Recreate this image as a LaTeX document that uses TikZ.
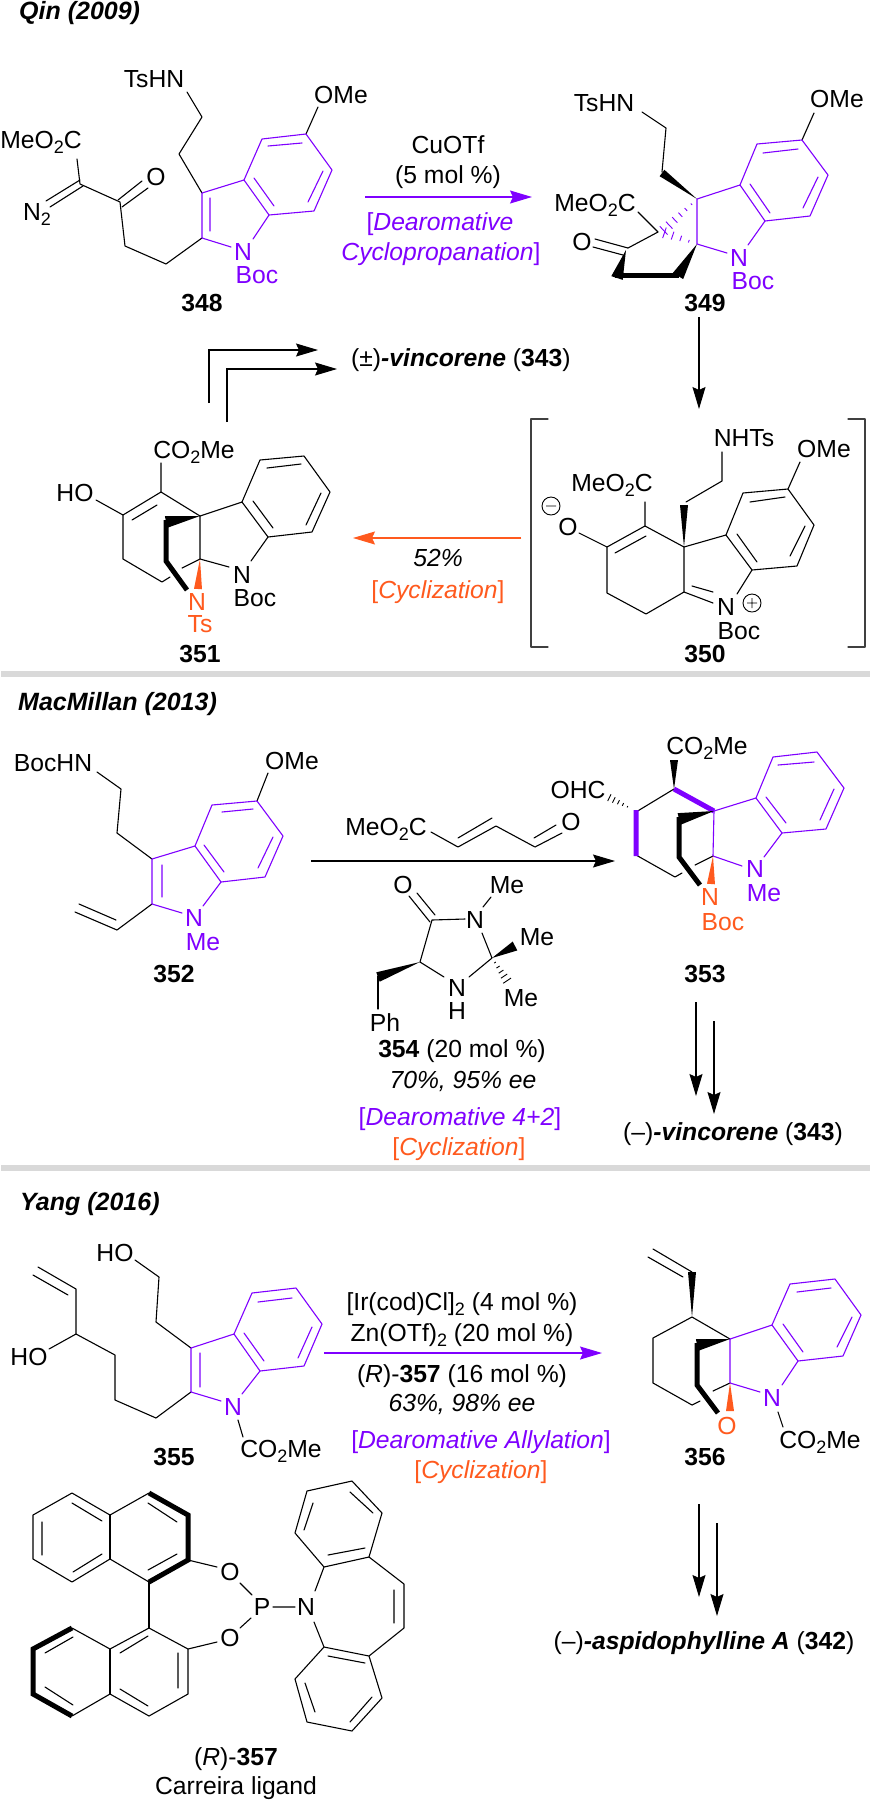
\documentclass[tikz,border=0pt]{standalone}
\usepackage{fontspec}
\setmainfont{Liberation Sans}
\usetikzlibrary{arrows.meta,calc}
\definecolor{Violet}{HTML}{7F00FF}
\definecolor{Tangerine}{HTML}{FF5A1E}
\definecolor{Divider}{HTML}{D9D9D9}
\definecolor{Bracket}{HTML}{404040}

\newcommand{\lowtwo}{\raisebox{-0.2em}{\fontsize{18}{18}\selectfont 2}}
\newcommand{\wedgebond}[4][black]{\fill [#1] #2 -- ($#3!#4pt!90:#2$) -- ($#3!#4pt!-90:#2$) -- cycle;}
\newcommand{\hashbond}[5][black]{%
	\foreach \hb in {1,...,#5} {%
		\pgfmathsetmacro{\hf}{\hb/(#5+0.3)}%
		\pgfmathsetmacro{\hw}{\hf*#4}%
		\draw [#1,line width=0.9pt] ($#2!\hf!#3!\hw pt!90:#3$) -- ($#2!\hf!#3!\hw pt!-90:#3$);
	}%
}
\tikzset{
	bd/.style={line width=1.1pt,line cap=round,line join=round},
	vbd/.style={bd,draw=Violet},
	fat/.style={line width=5pt,line join=miter},
	vlbl/.style={text=Violet},
	olbl/.style={text=Tangerine},
	headline/.style={anchor=west,font=\fontsize{25}{28}\selectfont\bfseries\itshape},
	rxn/.style={line width=1.1pt,-{Stealth[length=22pt,width=13pt,inset=3pt]}},
	bar/.style={line width=6pt,draw=Divider}
}

\begin{document}
\begin{tikzpicture}[x=1pt,y=-1pt,every node/.style={inner sep=0pt,text height=17pt,text depth=0pt,font=\fontsize{24.7}{28}\selectfont}]
\useasboundingbox (0,0) rectangle (870,1800);
\fill [white] (0,0) rectangle (870,1800);

\coordinate (barAl) at (1,674);
\coordinate (barAr) at (870,674);
\coordinate (barBl) at (1,1168);
\coordinate (barBr) at (870,1168);
\draw [bar] (barAl) -- (barAr);
\draw [bar] (barBl) -- (barBr);

\node (qin) at (19,11) [headline] {Qin (2009)};
\node (macmillan) at (18,702) [headline] {MacMillan (2013)};
\node (yang) at (20,1202) [headline] {Yang (2016)};

% 348
\node (tshnA) at (154,79) {TsHN};
\node (omeA) at (341,95) {OMe};
\node (esterA) at (41,140) {MeO\lowtwo C};
\node (ketoA) at (156,177) {O};
\node (diazoA) at (37,212) {N\lowtwo};
\node (nA) at (243,252) [vlbl] {N};
\node (bocA) at (257,275) [vlbl] {Boc};
\node (labA) at (202,303) {\textbf{348}};
\draw [bd] (187,92) -- (202,117) -- (179,154) -- (202,193);
\draw [bd] (306,134) -- (318,107);
\draw [bd] (202,238) -- (166,264) -- (125,246) -- (120,202) -- (80,184) -- (77,159);
\draw [bd] (118,200) -- (142,181) (122,207) -- (148,188);
\draw [bd] (80,180) -- (46,201) (83,186) -- (50,207);
\draw [vbd] (231,247) -- (202,238) -- (202,193) -- (244,180) -- (269,215) -- (253,239);
\draw [vbd] (244,180) -- (262,139) -- (306,134) -- (332,170) -- (314,211) -- (269,215);
\draw [vbd] (210,198) -- (210,231) (254,178) -- (274,206) (268,146) -- (302,143) (323,171) -- (308,202);

% reaction 348 to 349
\coordinate (arrAs) at (365,197);
\coordinate (arrAe) at (532,197);
\draw [rxn,draw=Violet,fill=Violet] (arrAs) -- (arrAe);
\node (cuotf) at (448,145) {CuOTf};
\node (cuload) at (448,175) {(5 mol \%)};
\node (dearoA) at (440,222) [vlbl] {[\textit{Dearomative}};
\node (cycloprop) at (441,252) [vlbl] {\textit{Cyclopropanation}]};

% 349
\node (tshnB) at (604,103) {TsHN};
\node (omeB) at (837,99) {OMe};
\node (esterB) at (595,203) {MeO\lowtwo C};
\node (ketoB) at (582,242) {O};
\node (nB) at (739,258) [vlbl] {N};
\node (bocB) at (753,281) [vlbl] {Boc};
\node (labB) at (705,303) {\textbf{349}};
\draw [bd] (642,112) -- (666,128) -- (662,172);
\wedgebond{(697,199)}{(662,173)}{4}
\draw [bd] (802,140) -- (814,113);
\draw [bd] (638,212) -- (658,232) -- (628,248);
\draw [bd] (595,239) -- (628,248) (593,247) -- (623,255);
\wedgebond{(626,250)}{(617,278)}{6}
\draw [fat] (615,275) -- (679,275);
\wedgebond{(697,244)}{(678,276)}{6}
\hashbond[Violet]{(697,199)}{(662,232)}{6}{6}
\hashbond[Violet]{(697,244)}{(662,232)}{6}{4}
\draw [vbd] (727,253) -- (697,244) -- (697,199) -- (740,185) -- (765,221) -- (748,245);
\draw [vbd] (740,185) -- (757,144) -- (802,140) -- (828,175) -- (810,216) -- (765,221);
\draw [vbd] (763,153) -- (798,149) (818,177) -- (803,208) (750,184) -- (770,213);

% reaction 349 to 350
\coordinate (arrBs) at (699,317);
\coordinate (arrBe) at (699,409);
\draw [rxn] (arrBs) -- (arrBe);

% 350
\coordinate (brLa) at (548,419);
\coordinate (brLb) at (531,419);
\coordinate (brLc) at (531,647);
\coordinate (brLd) at (548,647);
\coordinate (brRa) at (848,419);
\coordinate (brRb) at (865,419);
\coordinate (brRc) at (865,647);
\coordinate (brRd) at (848,647);
\draw [bd,draw=Bracket] (brLa) -- (brLb) -- (brLc) -- (brLd);
\draw [bd,draw=Bracket] (brRa) -- (brRb) -- (brRc) -- (brRd);
\node (nhtsC) at (744,438) {NHTs};
\node (omeC) at (824,449) {OMe};
\node (esterC) at (612,483) {MeO\lowtwo C};
\node (oxC) at (568,527) {O};
\node (nC) at (726,607) {N};
\node (bocC) at (739,631) {Boc};
\node (labC) at (705,654) {\textbf{350}};
\draw [bd] (722,452) -- (722,481) -- (686,502);
\wedgebond{(684,547)}{(684,505)}{4}
\draw [bd] (800,462) -- (788,489);
\draw [bd] (645,502) -- (645,526) -- (684,547) -- (684,592);
\draw [bd] (579,533) -- (607,547) -- (645,526) (615,553) -- (646,536);
\draw [bd] (607,547) -- (607,593) -- (646,614) -- (684,592) -- (713,603) (692,586) -- (713,592);
\draw [bd] (684,547) -- (726,535) -- (752,570) -- (737,594);
\draw [bd] (726,535) -- (743,493) -- (788,489) -- (814,525) -- (797,566) -- (752,570);
\draw [bd] (750,502) -- (785,497) (805,526) -- (790,556) (737,534) -- (757,562);
\draw [line width=0.9pt] (551,506) circle (9) (546,506) -- (556,506);
\draw [line width=0.9pt] (752,603) circle (9) (747,603) -- (757,603) (752,598) -- (752,608);

% reaction 350 to 351
\coordinate (arrCs) at (521,538);
\coordinate (arrCe) at (353,538);
\draw [rxn,draw=Tangerine,fill=Tangerine] (arrCs) -- (arrCe);
\node (yieldC) at (438,558) {\textit{52\%}};
\node (cycC) at (438,590) [olbl] {[\textit{Cyclization}]};

% 351
\node (estD) at (194,450) {CO\lowtwo Me};
\node (hoD) at (75,493) {HO};
\node (nD) at (242,575) {N};
\node (bocD) at (255,598) {Boc};
\node (nTs) at (197,602) [olbl] {N};
\node (tsD) at (200,624) [olbl] {Ts};
\node (labD) at (200,654) {\textbf{351}};
\draw [bd] (161,463) -- (161,492) -- (200,516) -- (200,559) -- (229,567);
\draw [bd] (96,500) -- (123,515) -- (161,492) (132,520) -- (157,505);
\draw [bd] (123,515) -- (123,559) -- (162,582) -- (170,577) (182,568) -- (200,559);
\draw [bd] (200,516) -- (242,502) -- (268,537) -- (251,561);
\draw [bd] (242,502) -- (260,460) -- (304,456) -- (330,492) -- (312,532) -- (268,537);
\draw [bd] (267,468) -- (301,464) (321,493) -- (306,525) (253,501) -- (273,528);
\wedgebond{(200,516)}{(166,522)}{6}
\draw [fat] (166,520) -- (166,561) -- (187,590);
\wedgebond[Tangerine]{(200,559)}{(198,589)}{4}

% reaction 351 to vincorene
\coordinate (arrDa) at (209,403);
\coordinate (arrDb) at (209,350);
\coordinate (arrDc) at (318,350);
\coordinate (arrEa) at (227,422);
\coordinate (arrEb) at (227,369);
\coordinate (arrEc) at (337,369);
\draw [rxn] (arrDa) -- (arrDb) -- (arrDc);
\draw [rxn] (arrEa) -- (arrEb) -- (arrEc);
\node (vincA) at (351,358) [anchor=west] {(±)\textbf{\textit{-vincorene}} (\textbf{343})};

% 352
\node (bochnF) at (53,763) {BocHN};
\node (omeF) at (292,761) {OMe};
\node (nF) at (194,918) [vlbl] {N};
\node (meF) at (203,942) [vlbl] {Me};
\node (labF) at (174,974) {\textbf{352}};
\draw [bd] (97,772) -- (121,789) -- (117,833) -- (152,859);
\draw [bd] (257,801) -- (268,773);
\draw [bd] (152,904) -- (117,930) -- (75,912) (116,920) -- (79,904);
\draw [vbd] (182,913) -- (152,904) -- (152,859) -- (195,846) -- (221,882) -- (203,906);
\draw [vbd] (195,846) -- (212,805) -- (257,801) -- (283,836) -- (265,877) -- (221,882);
\draw [vbd] (162,865) -- (162,897) (204,845) -- (224,872) (222,812) -- (253,809) (273,837) -- (258,868);

% reaction 352 to 353
\coordinate (arrFs) at (311,861);
\coordinate (arrFe) at (615,861);
\draw [rxn] (arrFs) -- (arrFe);
\node (esterG) at (386,827) {MeO\lowtwo C};
\node (oxG) at (571,822) {O};
\draw [bd] (431,832) -- (458,847) -- (496,826) -- (535,847) -- (562,833);
\draw [bd] (458,838) -- (492,818) (534,838) -- (556,825);

% 354
\node (oxH) at (403,885) {O};
\node (nmeH) at (475,920) {N};
\node (meH) at (507,885) {Me};
\node (meI) at (537,937) {Me};
\node (meJ) at (521,998) {Me};
\node (nhH) at (457,988) {N};
\node (hH) at (457,1011) {H};
\node (phH) at (385,1023) {Ph};
\draw [bd] (409,896) -- (430,922) (417,893) -- (435,915);
\draw [bd] (465,919) -- (432,920) -- (420,962) -- (444,977);
\draw [bd] (483,907) -- (491,897);
\draw [bd] (469,977) -- (492,958) -- (482,933);
\wedgebond{(492,958)}{(515,946)}{5}
\hashbond{(492,958)}{(508,982)}{5}{5}
\wedgebond{(420,962)}{(378,977)}{5}
\draw [bd] (378,976) -- (378,1009);
\node (loadH) at (462,1049) {\textbf{354} (20 mol \%)};
\node (yieldH) at (463,1080) {\textit{70\%, 95\% ee}};
\node (dearoH) at (460,1117) [vlbl] {[\textit{Dearomative 4+2}]};
\node (cycH) at (459,1147) [olbl] {[\textit{Cyclization}]};

% 353
\node (estK) at (707,746) {CO\lowtwo Me};
\node (ohcK) at (578,790) {OHC};
\node (nK) at (755,869) [vlbl] {N};
\node (meK) at (764,893) [vlbl] {Me};
\node (nBoc) at (710,897) [olbl] {N};
\node (bocK) at (723,922) [olbl] {Boc};
\node (labK) at (705,974) {\textbf{353}};
\wedgebond{(674,789)}{(674,760)}{4}
\hashbond{(632,809)}{(608,797)}{4}{5}
\draw [bd] (674,789) -- (636,812);
\draw [bd] (636,855) -- (675,877) -- (682,873) (695,865) -- (713,856);
\draw [line width=5pt,draw=Violet] (636,810) -- (636,856) (674,789) -- (714,811);
\draw [vbd] (742,866) -- (713,856) -- (714,811) -- (756,798) -- (782,833) -- (764,857);
\draw [vbd] (756,798) -- (773,757) -- (817,752) -- (844,788) -- (826,829) -- (782,833);
\draw [vbd] (778,765) -- (814,762) (834,789) -- (820,820) (766,797) -- (786,823);
\wedgebond{(714,811)}{(679,819)}{6}
\draw [fat] (679,817) -- (679,857) -- (700,885);
\wedgebond[Tangerine]{(713,856)}{(711,884)}{4}

% 353 to vincorene
\coordinate (arrKa) at (696,1002);
\coordinate (arrKb) at (696,1096);
\coordinate (arrLa) at (714,1021);
\coordinate (arrLb) at (714,1114);
\draw [rxn] (arrKa) -- (arrKb);
\draw [rxn] (arrLa) -- (arrLb);
\node (vincB) at (623,1132) [anchor=west] {(--)\textbf{\textit{-vincorene}} (\textbf{343})};

% 355
\node (hoM) at (115,1253) {HO};
\node (hoN) at (29,1357) {HO};
\node (nM) at (233,1407) [vlbl] {N};
\node (estM) at (281,1449) {CO\lowtwo Me};
\node (labM) at (174,1457) {\textbf{355}};
\draw [bd] (135,1260) -- (159,1277) -- (156,1322) -- (191,1348);
\draw [bd] (191,1392) -- (156,1418) -- (115,1400) -- (115,1355) -- (76,1334) -- (49,1349);
\draw [bd] (76,1334) -- (76,1289) -- (38,1267) (68,1295) -- (33,1275);
\draw [bd] (238,1420) -- (243,1437);
\draw [vbd] (221,1401) -- (191,1392) -- (191,1348) -- (234,1334) -- (260,1371) -- (242,1394);
\draw [vbd] (234,1334) -- (252,1293) -- (296,1288) -- (322,1324) -- (304,1366) -- (260,1371);
\draw [vbd] (200,1353) -- (200,1387) (244,1333) -- (264,1361) (258,1302) -- (292,1298) (312,1327) -- (298,1358);

% reaction 355 to 356
\coordinate (arrMs) at (324,1353);
\coordinate (arrMe) at (602,1353);
\draw [rxn,draw=Violet,fill=Violet] (arrMs) -- (arrMe);
\node (irM) at (462,1302) {[Ir(cod)Cl]\lowtwo{} (4 mol \%)};
\node (znM) at (462,1333) {Zn(OTf)\lowtwo{} (20 mol \%)};
\node (ligM) at (462,1374) {(\textit{R})-\textbf{357} (16 mol \%)};
\node (yieldM) at (462,1403) {\textit{63\%, 98\% ee}};
\node (dearoM) at (481,1440) [vlbl] {[\textit{Dearomative Allylation}]};
\node (cycM) at (481,1470) [olbl] {[\textit{Cyclization}]};

% 356
\node (nP) at (772,1398) [vlbl] {N};
\node (estP) at (820,1440) {CO\lowtwo Me};
\node (oxP) at (727,1426) [olbl] {O};
\node (labP) at (705,1457) {\textbf{356}};
\draw [bd] (653,1249) -- (692,1272) (648,1257) -- (683,1277);
\wedgebond{(692,1317)}{(692,1272)}{4}
\draw [bd] (730,1339) -- (692,1317) -- (653,1338) -- (653,1383) -- (692,1405) -- (700,1401) (713,1391) -- (730,1383);
\draw [bd] (778,1412) -- (783,1427);
\draw [vbd] (760,1392) -- (730,1383) -- (730,1339) -- (772,1325) -- (798,1361) -- (782,1385);
\draw [vbd] (772,1325) -- (790,1284) -- (835,1279) -- (861,1315) -- (843,1356) -- (798,1361);
\draw [vbd] (797,1292) -- (831,1288) (852,1317) -- (837,1347) (783,1324) -- (803,1352);
\wedgebond{(730,1339)}{(697,1345)}{6}
\draw [fat] (697,1343) -- (697,1385) -- (718,1413);
\wedgebond[Tangerine]{(730,1383)}{(730,1411)}{4}

% 356 to aspidophylline
\coordinate (arrPa) at (699,1504);
\coordinate (arrPb) at (699,1597);
\coordinate (arrQa) at (717,1523);
\coordinate (arrQb) at (717,1616);
\draw [rxn] (arrPa) -- (arrPb);
\draw [rxn] (arrQa) -- (arrQb);
\node (aspido) at (704,1641) {(--)\textbf{\textit{-aspidophylline A}} (\textbf{342})};

% 357
\node (oxR) at (230,1572) {O};
\node (oxS) at (230,1638) {O};
\node (pR) at (262,1607) {P};
\node (nR) at (306,1607) {N};
\node (labR) at (236,1757) {(\textit{R})-\textbf{357}};
\node (capR) at (236,1786) {Carreira ligand};
\draw [bd] (149,1493) -- (110,1515) -- (72,1493) -- (33,1515) -- (33,1559) -- (72,1582) -- (110,1559) -- (149,1582);
\draw [bd] (110,1515) -- (110,1559);
\draw [bd] (42,1522) -- (42,1555) (72,1503) -- (102,1521) (102,1554) -- (73,1572) (148,1503) -- (177,1522) (177,1554) -- (148,1570);
\draw [fat] (149,1493) -- (188,1515) -- (188,1560) -- (149,1582);
\draw [bd] (149,1582) -- (149,1628);
\draw [bd] (72,1716) -- (110,1694) -- (149,1716) -- (188,1694) -- (188,1649) -- (149,1628) -- (110,1649) -- (72,1628);
\draw [bd] (110,1649) -- (110,1694);
\draw [bd] (178,1653) -- (178,1688) (120,1653) -- (148,1636) (120,1689) -- (148,1706) (45,1653) -- (73,1637) (45,1687) -- (73,1705);
\draw [fat] (72,1628) -- (33,1649) -- (33,1694) -- (72,1716);
\draw [bd] (188,1560) -- (217,1567) (188,1649) -- (217,1642) (240,1583) -- (252,1595) (240,1628) -- (251,1618) (273,1607) -- (295,1607);
\draw [bd] (315,1591) -- (324,1567) -- (295,1533) -- (307,1491) -- (352,1481) -- (382,1513) -- (369,1557) -- (324,1567);
\draw [bd] (328,1555) -- (365,1548) (304,1530) -- (313,1503) (350,1492) -- (373,1513);
\draw [bd] (314,1622) -- (324,1647) -- (295,1679) -- (307,1722) -- (352,1731) -- (382,1698) -- (369,1656) -- (324,1647);
\draw [bd] (328,1656) -- (365,1663) (305,1683) -- (315,1712) (350,1722) -- (372,1697);
\draw [bd] (369,1557) -- (404,1584) -- (404,1628) -- (369,1656) (394,1590) -- (394,1623);
\end{tikzpicture}
\end{document}
